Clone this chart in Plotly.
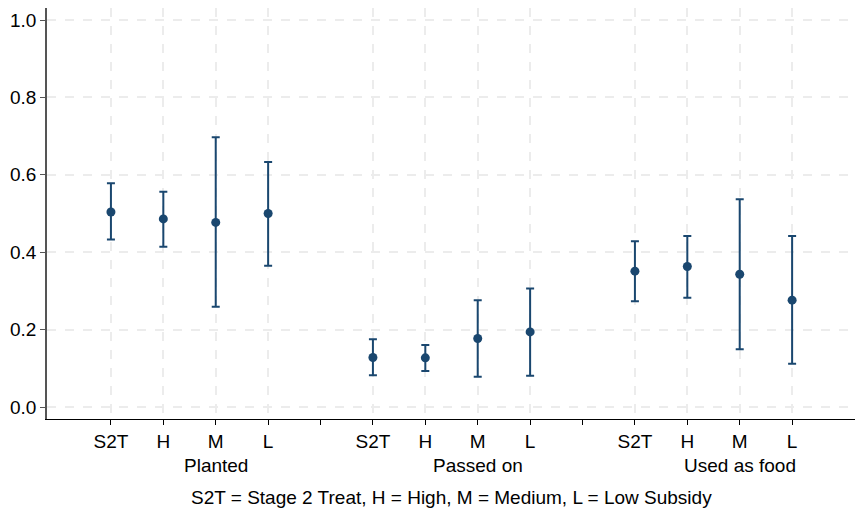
import plotly.graph_objects as go

groups = ["Planted", "Passed on", "Used as food"]
subsidy = ["S2T", "H", "M", "L"]
xpos = [[1, 2, 3, 4], [6, 7, 8, 9], [11, 12, 13, 14]]
group_centers = [3, 8, 13]
separator_ticks = [5, 10]

est = [
    [0.504, 0.486, 0.477, 0.500],
    [0.128, 0.127, 0.177, 0.194],
    [0.351, 0.363, 0.343, 0.276],
]
upper = [
    [0.578, 0.556, 0.697, 0.633],
    [0.175, 0.160, 0.276, 0.306],
    [0.428, 0.442, 0.537, 0.442],
]
lower = [
    [0.433, 0.414, 0.259, 0.365],
    [0.082, 0.093, 0.078, 0.081],
    [0.273, 0.282, 0.149, 0.112],
]
ytick_vals = [0.0, 0.2, 0.4, 0.6, 0.8, 1.0]
ytick_text = ["0.0", "0.2", "0.4", "0.6", "0.8", "1.0"]
caption = "S2T = Stage 2 Treat, H = High, M = Medium, L = Low Subsidy"

color = "#1a476f"
font = "Liberation Sans, Arial, sans-serif"
fs = 19

fig = go.Figure()
xs, ys, ep, em = [], [], [], []
for g in range(3):
    for i in range(4):
        xs.append(xpos[g][i])
        ys.append(est[g][i])
        ep.append(upper[g][i] - est[g][i])
        em.append(est[g][i] - lower[g][i])

fig.add_trace(go.Scatter(
    x=xs, y=ys, mode="markers",
    marker=dict(color=color, size=9),
    error_y=dict(type="data", array=ep, arrayminus=em, visible=True,
                 color=color, thickness=2, width=4),
    showlegend=False,
))
fig.add_trace(go.Scatter(x=separator_ticks, y=[None, None], xaxis="x2",
                         showlegend=False, hoverinfo="skip"))

tickvals = [v for row in xpos for v in row]
ticktext = subsidy * 3
xr = [-0.22, 15.2]
grid = "#ececec"

fig.update_layout(
    width=855, height=509,
    margin=dict(l=47, r=0, t=8, b=90),
    paper_bgcolor="white", plot_bgcolor="white",
    font=dict(family=font, size=fs, color="black"),
    xaxis=dict(range=xr, tickvals=tickvals, ticktext=ticktext,
               showgrid=True, gridcolor=grid, griddash="dash", gridwidth=1.5,
               showline=True, linecolor="black", linewidth=1,
               ticks="outside", ticklen=5, tickcolor="black",
               zeroline=False, tickfont=dict(size=fs)),
    xaxis2=dict(range=xr, overlaying="x", side="bottom", tickvals=separator_ticks,
                showticklabels=False, showgrid=False, ticks="outside", ticklen=5,
                tickcolor="black", showline=False, zeroline=False),
    yaxis=dict(range=[-0.031, 1.031], tickvals=ytick_vals, ticktext=ytick_text,
               showgrid=True, gridcolor=grid, griddash="dash", gridwidth=1.5,
               showline=True, linecolor="#555555", linewidth=1.5,
               ticks="outside", ticklen=5, tickcolor="#555555",
               zeroline=False, tickfont=dict(size=fs)),
)

for g, c in zip(groups, group_centers):
    fig.add_annotation(x=c, xref="x", y=-0.112, yref="paper", text=g,
                       showarrow=False, yanchor="middle", xanchor="center",
                       font=dict(size=fs))
fig.add_annotation(x=0.5, xref="paper", y=-0.19, yref="paper", text=caption,
                   showarrow=False, yanchor="middle", xanchor="center",
                   font=dict(size=fs))

fig.write_html("out.html")
